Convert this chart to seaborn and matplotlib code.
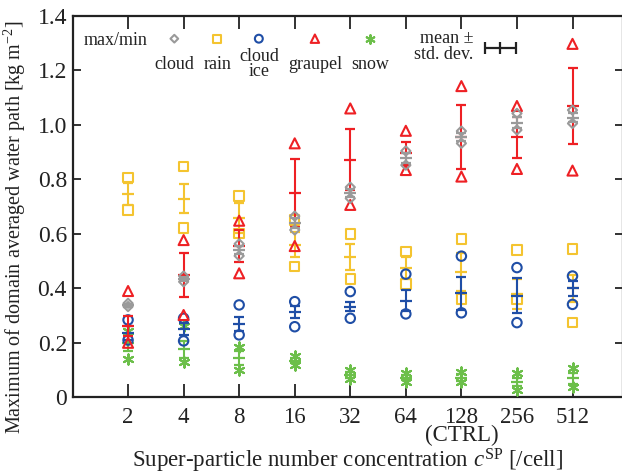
import numpy as np
import pandas as pd
import matplotlib
matplotlib.use("Agg")
import matplotlib.pyplot as plt
import seaborn as sns

# ---------------- data ----------------
categories = ["2", "4", "8", "16", "32", "64", "128\n(CTRL)", "256", "512"]

cloud_max = [0.345, 0.445, 0.563, 0.665, 0.771, 0.904, 0.977, 1.042, 1.054]
cloud_min = [0.333, 0.424, 0.519, 0.614, 0.730, 0.852, 0.932, 0.981, 1.005]
cloud_mean = [0.338, 0.435, 0.541, 0.640, 0.750, 0.878, 0.955, 1.008, 1.026]
cloud_std = [0.005, 0.008, 0.015, 0.018, 0.015, 0.018, 0.015, 0.020, 0.017]

rain_max = [0.807, 0.846, 0.739, 0.651, 0.599, 0.534, 0.581, 0.541, 0.544]
rain_min = [0.687, 0.622, 0.602, 0.479, 0.434, 0.416, 0.360, 0.360, 0.275]
rain_mean = [0.747, 0.728, 0.657, 0.560, 0.516, 0.475, 0.461, 0.380, 0.400]
rain_std = [0.040, 0.053, 0.055, 0.045, 0.048, 0.040, 0.070, 0.055, 0.050]

ice_max = [0.284, 0.290, 0.339, 0.351, 0.388, 0.452, 0.518, 0.476, 0.445]
ice_min = [0.210, 0.207, 0.229, 0.259, 0.290, 0.306, 0.310, 0.274, 0.341]
ice_mean = [0.237, 0.251, 0.268, 0.312, 0.333, 0.355, 0.382, 0.373, 0.400]
ice_std = [0.025, 0.022, 0.025, 0.022, 0.018, 0.038, 0.060, 0.063, 0.027]

graupel_max = [0.390, 0.577, 0.648, 0.932, 1.060, 0.978, 1.142, 1.069, 1.297]
graupel_min = [0.200, 0.302, 0.455, 0.555, 0.706, 0.834, 0.810, 0.838, 0.832]
graupel_mean = [0.262, 0.450, 0.555, 0.749, 0.871, 0.895, 0.956, 0.955, 1.070]
graupel_std = [0.038, 0.081, 0.060, 0.125, 0.112, 0.043, 0.118, 0.075, 0.140]

snow_max = [0.245, 0.262, 0.186, 0.150, 0.100, 0.090, 0.092, 0.089, 0.106]
snow_min = [0.139, 0.131, 0.100, 0.118, 0.068, 0.055, 0.055, 0.027, 0.039]
snow_mean = [0.200, 0.176, 0.145, 0.135, 0.082, 0.072, 0.072, 0.057, 0.070]
snow_std = [0.030, 0.030, 0.025, 0.010, 0.010, 0.010, 0.012, 0.015, 0.020]

y_ticks = [0, 0.2, 0.4, 0.6, 0.8, 1.0, 1.2, 1.4]
y_tick_labels = ["0", "0.2", "0.4", "0.6", "0.8", "1.0", "1.2", "1.4"]

# ---------------- style ----------------
sns.set_theme(style="ticks")
plt.rcParams["font.family"] = ["Liberation Serif", "DejaVu Serif"]
plt.rcParams["mathtext.fontset"] = "custom"
plt.rcParams["mathtext.rm"] = "Liberation Serif"
plt.rcParams["mathtext.it"] = "Liberation Serif:italic"

INK = "#222222"
colors = {
    "cloud": "#9a9a9a",
    "rain": "#f4c430",
    "ice": "#1f4ea6",
    "graupel": "#ee2024",
    "snow": "#6cbf4a",
}
markers = {"cloud": "D", "rain": "s", "ice": "o", "graupel": "^", "snow": (6, 2, 0)}
msizes = {"cloud": 22, "rain": 46, "ice": 46, "graupel": 52, "snow": 55}

species = {
    "snow": (snow_max, snow_min, snow_mean, snow_std),
    "rain": (rain_max, rain_min, rain_mean, rain_std),
    "ice": (ice_max, ice_min, ice_mean, ice_std),
    "graupel": (graupel_max, graupel_min, graupel_mean, graupel_std),
    "cloud": (cloud_max, cloud_min, cloud_mean, cloud_std),
}


def face(name):
    # unfilled (line) markers take their colour from the face colour
    return colors[name] if name == "snow" else "none"


fig = plt.figure(figsize=(6.22, 4.75), dpi=100)
W, H = 622.0, 475.0
ax = fig.add_axes([72.5 / W, (H - 397.3) / H, (622.5 - 72.5) / W, (397.3 - 15.8) / H])

pos = np.arange(len(categories))
z = 3
for name, (vmax, vmin, vmean, vstd) in species.items():
    c = colors[name]
    df = pd.DataFrame({
        "pos": np.concatenate([pos, pos]),
        "value": np.concatenate([vmax, vmin]),
    })
    sns.scatterplot(data=df, x="pos", y="value", ax=ax, marker=markers[name],
                    s=msizes[name], color=c, facecolors=face(name), edgecolor=c,
                    linewidths=1.5, zorder=z + 1, legend=False)
    ax.errorbar(pos, vmean, yerr=vstd, fmt="_", ms=9, mew=1.6, color=c,
                elinewidth=1.5, capsize=3.6, capthick=1.5, zorder=z)
    z += 2

# ---------------- axes ----------------
ax.set_xlim(-1.0, 8.9)
ax.set_ylim(0, 1.4)
ax.set_xticks(pos)
ax.set_xticklabels(categories, fontsize=16.5, linespacing=0.8)
ax.set_yticks(y_ticks)
ax.set_yticklabels(y_tick_labels, fontsize=17)
ax.tick_params(axis="x", direction="in", length=9.5, width=1.3, top=True, bottom=True,
               pad=7, colors=INK, labelcolor=INK)
ax.tick_params(axis="y", direction="in", length=6, width=1.3, left=True, right=True,
               pad=4, colors=INK, labelcolor=INK)
for sp in ax.spines.values():
    sp.set_linewidth(1.6)
    sp.set_color(INK)
    sp.set_visible(True)

ax.set_xlabel(r"Super-particle number concentration $c^{\rm SP}$ [/cell]",
              fontsize=16.5, color=INK)
ax.xaxis.set_label_coords(0.5, -0.13)
ax.set_ylabel(r"Maximum of domain averaged water path [kg m$^{-2}$]",
              fontsize=14.5, color=INK)
ax.yaxis.set_label_coords(-0.08, 0.445)

# ---------------- legend (manual layout) ----------------
leg_y = 1.316
lab_y = 1.223
ax.text(-0.225, 1.311, "max/min", fontsize=13, ha="center", va="center", color=INK)
leg_items = [("cloud", 0.833, "cloud"), ("rain", 1.603, "rain"), ("ice", 2.354, "cloud\nice"),
             ("graupel", 3.363, "graupel"), ("snow", 4.353, "snow")]
for name, lx, label in leg_items:
    ax.scatter([lx], [leg_y], marker=markers[name], s=msizes[name] * 0.7,
               facecolors=face(name), edgecolors=colors[name], linewidths=1.5, zorder=20)
    ax.text(lx, lab_y, label, fontsize=13, ha="center", va="center",
            linespacing=0.85, color=INK)
ax.text(6.209, 1.287, "mean \u00b1\nstd. dev.", fontsize=13, ha="right", va="center",
        multialignment="right", linespacing=0.9, color=INK)
ax.errorbar([6.70], [1.281], xerr=[0.28], fmt="|", ms=9, mew=1.6, color=INK,
            elinewidth=1.6, capsize=4, capthick=1.6, zorder=20)

fig.savefig("out.png", dpi=100)
